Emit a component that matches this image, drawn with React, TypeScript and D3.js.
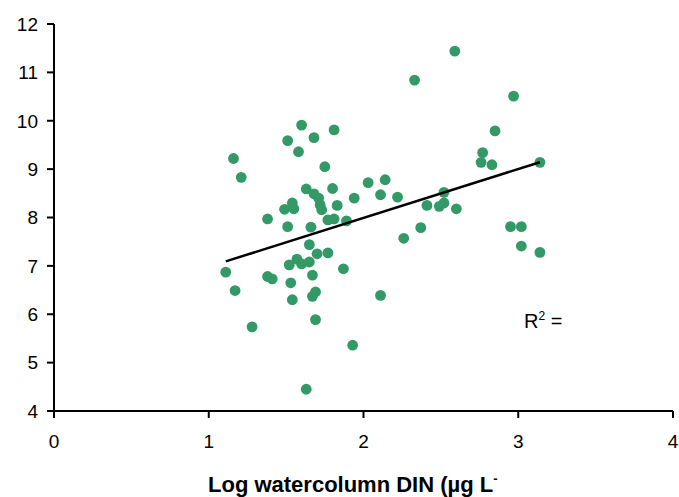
import React from "react";
import * as d3 from "d3";

const xValues: number[] = [
  1.60, 1.51, 1.68, 1.81, 1.58, 1.16, 1.21, 1.75, 2.03, 1.63,
  1.80, 1.68, 1.71, 1.72, 1.73, 1.94, 1.83, 1.54, 1.55, 1.49,
  1.38, 1.77, 1.81, 1.89, 1.51, 1.66, 1.11, 1.65, 1.70, 1.77,
  1.57, 1.52, 1.60, 1.65, 1.87, 1.67, 1.38, 1.41, 1.53, 1.17,
  1.69, 1.67, 1.54, 1.69, 1.28, 1.93, 1.63, 2.14, 2.11, 2.22,
  2.52, 2.52, 2.49, 2.41, 2.60, 2.37, 2.26, 2.76, 2.77, 2.83,
  3.14, 2.95, 3.02, 3.02, 3.14, 2.59, 2.33, 2.97, 2.85, 2.11,
];
const yValues: number[] = [
  9.91, 9.59, 9.65, 9.81, 9.36, 9.22, 8.83, 9.05, 8.72, 8.59,
  8.60, 8.49, 8.40, 8.26, 8.16, 8.40, 8.25, 8.30, 8.18, 8.17,
  7.97, 7.95, 7.97, 7.93, 7.81, 7.80, 6.87, 7.44, 7.25, 7.27,
  7.14, 7.02, 7.04, 7.08, 6.94, 6.81, 6.78, 6.73, 6.65, 6.49,
  6.46, 6.37, 6.30, 5.89, 5.74, 5.36, 4.45, 8.78, 8.47, 8.42,
  8.52, 8.30, 8.23, 8.25, 8.18, 7.79, 7.57, 9.14, 9.34, 9.09,
  9.14, 7.81, 7.81, 7.41, 7.28, 11.44, 10.84, 10.51, 9.79, 6.39,
];
const xTicks: number[] = [0, 1, 2, 3, 4];
const yTicks: number[] = [4, 5, 6, 7, 8, 9, 10, 11, 12];
const trendSlope = 1.01;
const trendIntercept = 5.972;
const xTitle = "Log watercolumn DIN (µg L";
const xTitleSup = "-";

export default function App() {
  const W = 679;
  const H = 497;
  const left = 54;
  const right = 673;
  const top = 24;
  const bottom = 411;
  const x = d3.scaleLinear().domain([0, 4]).range([left, right]);
  const y = d3.scaleLinear().domain([4, 12]).range([bottom, top]);
  const pts = xValues.map((v, i) => ({ x: v, y: yValues[i] }));
  const [xmin, xmax] = d3.extent(xValues) as [number, number];
  const line = d3
    .line<number>()
    .x((d) => x(d))
    .y((d) => y(trendIntercept + trendSlope * d));
  const font = "'Liberation Sans', Arial, sans-serif";
  const green = "#339966";
  return (
    <svg
      width={W}
      height={H}
      style={{ position: "absolute", left: 0, top: 0, background: "#fff" }}
      fontFamily={font}
    >
      {pts.map((p, i) => (
        <circle key={i} cx={x(p.x)} cy={y(p.y)} r={5.4} fill={green} />
      ))}
      <path
        d={line([xmin, xmax]) || ""}
        stroke="#000"
        strokeWidth={2.5}
        fill="none"
      />
      {/* Y axis */}
      <line x1={left} x2={left} y1={top} y2={bottom} stroke="#000" strokeWidth={2} />
      {yTicks.map((t) => (
        <g key={t}>
          <line x1={left - 7} x2={left} y1={y(t)} y2={y(t)} stroke="#000" strokeWidth={2} />
          <text
            x={left - 16}
            y={y(t)}
            dy="0.36em"
            textAnchor="end"
            fontSize={19}
            fill="#000"
          >
            {t}
          </text>
        </g>
      ))}
      {/* X axis */}
      <line x1={left} x2={right} y1={bottom} y2={bottom} stroke="#000" strokeWidth={2} />
      {xTicks.map((t) => (
        <g key={t}>
          <line x1={x(t)} x2={x(t)} y1={bottom} y2={bottom + 7} stroke="#000" strokeWidth={2} />
          <text x={x(t)} y={448} textAnchor="middle" fontSize={19} fill="#000">
            {t}
          </text>
        </g>
      ))}
      <text x={208} y={492} fontSize={22} fontWeight="bold" fill="#000">
        {xTitle}
        <tspan dy={-9} fontSize={13}>
          {xTitleSup}
        </tspan>
      </text>
      <text x={524} y={328} fontSize={20} fill="#000">
        R
        <tspan dy={-8} fontSize={12}>
          2
        </tspan>
        <tspan dy={8}> =</tspan>
      </text>
    </svg>
  );
}
